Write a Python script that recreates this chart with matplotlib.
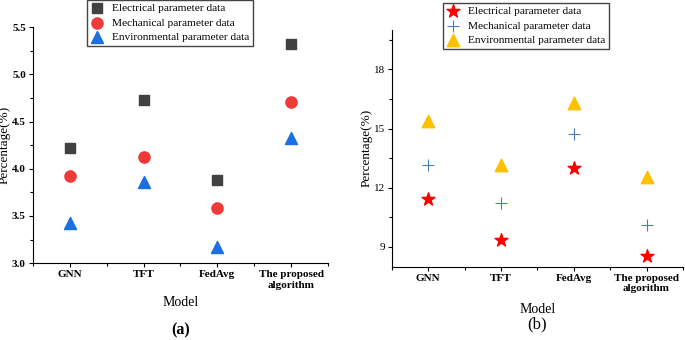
import numpy as np
import matplotlib.pyplot as plt
from matplotlib.ticker import MultipleLocator

plt.rcParams['font.family'] = ['Liberation Serif', 'DejaVu Serif']

models = ['GNN', 'TFT', 'FedAvg', 'The proposed\nalgorithm']
series_names = ['Electrical parameter data', 'Mechanical parameter data',
                'Environmental parameter data']

# panel (a)
elec_a = [4.22, 4.73, 3.88, 5.32]
mech_a = [3.92, 4.13, 3.58, 4.71]
env_a = [3.43, 3.86, 3.17, 4.33]

# panel (b)
elec_b = [11.42, 9.34, 12.98, 8.53]
mech_b = [13.15, 11.2, 14.72, 10.13]
env_b = [15.4, 13.15, 16.28, 12.52]

x = np.arange(len(models))

fig = plt.figure(figsize=(6.85, 3.4), dpi=100)
ax1 = fig.add_axes([0.048, 0.226, 0.431, 0.694])
ax2 = fig.add_axes([0.572, 0.216, 0.425, 0.696])


def style(ax, bold_y, xpad):
    ax.spines['top'].set_visible(False)
    ax.spines['right'].set_visible(False)
    ax.set_xlim(-0.5, 3.5)
    ax.set_xticks(x)
    ax.set_xticklabels(models, fontsize=8, fontweight='bold')
    ax.set_xticks(np.arange(-0.5, 4, 1), minor=True)
    ax.tick_params(direction='out', length=3, width=0.8, labelsize=8, pad=2)
    ax.tick_params(which='minor', direction='out', length=2, width=0.8)
    for lab in ax.get_yticklabels():
        lab.set_fontweight('bold' if bold_y else 'normal')
    ax.set_xlabel('Model', fontsize=10, labelpad=xpad)
    ax.set_ylabel('Percentage(%)', fontsize=9.5, labelpad=1)


leg_kw = dict(loc='upper left', fontsize=8.2, frameon=True, fancybox=False,
              edgecolor='#444444', borderpad=0.3, labelspacing=0.4,
              handlelength=1.2, handletextpad=0.7, framealpha=1,
              bbox_transform=fig.transFigure, borderaxespad=0)

ax1.scatter(x, elec_a, marker='s', s=55, color='#414141', label=series_names[0], zorder=3)
ax1.scatter(x, mech_a, marker='o', s=65, color='#f03a3a', label=series_names[1], zorder=3)
ax1.scatter(x, env_a, marker='^', s=75, color='#1b6fe0', label=series_names[2], zorder=3)
ax1.set_ylim(3.0, 5.5)
ax1.yaxis.set_major_locator(MultipleLocator(0.5))
ax1.yaxis.set_minor_locator(MultipleLocator(0.25))
ax1.yaxis.set_major_formatter(plt.FormatStrFormatter('%.1f'))
style(ax1, True, 5)
ax1.legend(bbox_to_anchor=(87 / 685, 1.0), **leg_kw)
ax1.text(0.5, -0.284, '(a)', transform=ax1.transAxes, ha='center', va='center',
         fontsize=11.5, fontweight='bold')

ax2.scatter(x, elec_b, marker='*', s=95, color='#ff0000', label=series_names[0], zorder=3)
ax2.scatter(x, mech_b, marker='+', s=70, color='#4a7cc0', linewidths=0.8,
            label=series_names[1], zorder=3)
ax2.scatter(x, env_b, marker='^', s=80, color='#ffc000', label=series_names[2], zorder=3)
ax2.set_ylim(8, 20)
ax2.yaxis.set_major_locator(MultipleLocator(3))
ax2.yaxis.set_minor_locator(MultipleLocator(1.5))
style(ax2, False, 7)
ax2.legend(bbox_to_anchor=(443 / 685, 1 - 3 / 340), **leg_kw)
ax2.text(0.5, -0.245, '(b)', transform=ax2.transAxes, ha='center', va='center',
         fontsize=12)

fig.savefig('out.png', dpi=100)
